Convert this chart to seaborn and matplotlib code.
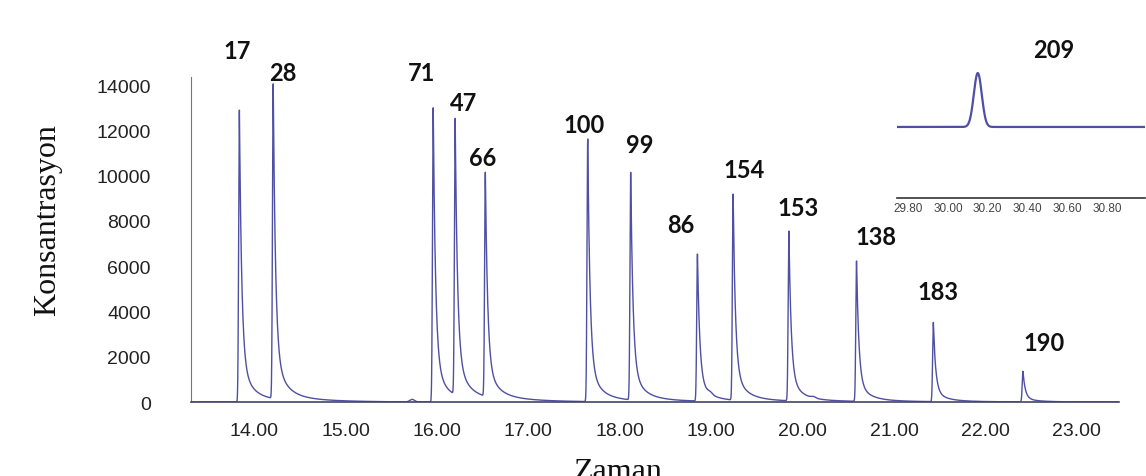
import numpy as np
import pandas as pd
import matplotlib
matplotlib.use('Agg')
import matplotlib.pyplot as plt
import seaborn as sns
from matplotlib.ticker import MultipleLocator, FormatStrFormatter

# Peaks: compound number, retention time (min), height
peak_labels = ['17', '28', '71', '47', '66', '100', '99', '86', '154', '153', '138', '183', '190']
peak_times = [13.84, 14.21, 15.96, 16.20, 16.53, 17.65, 18.12, 18.85, 19.24, 19.85, 20.59, 21.43, 22.41]
peak_heights = [12900, 13900, 13000, 12200, 9900, 11600, 10050, 6500, 9100, 7500, 6200, 3500, 1350]

# small unlabeled bumps on the baseline
minor_times = [15.73, 18.99, 20.12]
minor_heights = [110, 90, 60]

# inset: late eluting compound 209
inset_label = '209'
inset_time = 30.15
inset_height = 400

# label offsets from the apex, in pixels (dx, dy up)
label_offsets = [(-2, 60), (10, 15), (-12, 35), (8, 23), (-3, 20), (-4, 15), (9, 30),
                 (-17, 30), (11, 27), (9, 25), (19, 25), (5, 31), (21, 29)]

line_color = '#4f4fa3'


def tailed_peak(t, t0, h):
    dt = t - t0
    rise = np.exp(-0.5 * (dt / 0.008) ** 2)
    d = np.clip(dt, 0, None)
    tail = 0.85 * np.exp(-d / 0.025) + 0.13 * np.exp(-d / 0.11) + 0.02 * np.exp(-d / 0.4)
    return h * np.where(dt < 0, rise, tail)


def gauss_peak(t, t0, h, s):
    return h * np.exp(-0.5 * ((t - t0) / s) ** 2)


t = np.linspace(13.31, 23.46, 20000)
signal = np.zeros_like(t)
for t0, h in zip(peak_times, peak_heights):
    signal += tailed_peak(t, t0, h)
for t0, h in zip(minor_times, minor_heights):
    signal += gauss_peak(t, t0, h, 0.025)
main_df = pd.DataFrame({'Zaman': t, 'Konsantrasyon': signal})

ti = np.linspace(29.744, 30.99, 2000)
inset_df = pd.DataFrame({'t': ti, 'y': gauss_peak(ti, inset_time, inset_height, 0.02)})

sns.set_style('white')
plt.rcParams['font.family'] = ['Liberation Sans', 'DejaVu Sans']

fig = plt.figure(figsize=(11.46, 4.77), dpi=100)
ax = fig.add_axes([0.1667, 0.155, 0.8097, 0.681])

sns.lineplot(data=main_df, x='Zaman', y='Konsantrasyon', ax=ax, color=line_color,
             lw=1.0, estimator=None, sort=False)

ax.set_xlim(13.311, 23.46)
ax.set_ylim(0, 14352)
ax.xaxis.set_major_locator(MultipleLocator(1))
ax.xaxis.set_minor_locator(MultipleLocator(0.2))
ax.xaxis.set_major_formatter(FormatStrFormatter('%.2f'))
ax.yaxis.set_major_locator(MultipleLocator(2000))
ax.yaxis.set_minor_locator(MultipleLocator(400))
ax.tick_params(axis='x', which='major', direction='out', length=6, width=1,
               color='#555555', labelsize=14, labelcolor='#222222', pad=8)
ax.tick_params(axis='x', which='minor', direction='out', length=3.5, width=0.8, color='#555555')
ax.tick_params(axis='y', which='major', direction='out', length=3, width=0.8,
               color='#777777', labelsize=14, labelcolor='#222222', pad=26)
ax.tick_params(axis='y', which='minor', direction='out', length=2, width=0.6, color='#777777')
ax.set_xlabel('')
ax.set_ylabel('')
for side in ['top', 'right']:
    ax.spines[side].set_visible(False)
ax.spines['left'].set_color('#777777')
ax.spines['bottom'].set_color('#444466')
ax.spines['bottom'].set_linewidth(1.2)

for lab, t0, h, (dx, dy) in zip(peak_labels, peak_times, peak_heights, label_offsets):
    ax.annotate(lab, xy=(t0, h), xytext=(dx, dy), textcoords='offset pixels',
                ha='center', va='center', fontsize=17, fontweight='bold',
                family=['Lato', 'DejaVu Sans'], color='#111111')

# inset with compound 209
axi = fig.add_axes([0.7827, 0.5828, 0.2164, 0.2914])
sns.lineplot(data=inset_df, x='t', y='y', ax=axi, color=line_color, lw=1.6,
             estimator=None, sort=False)
axi.set_xlim(29.744, 30.99)
axi.set_ylim(-1.317 * inset_height, 1.26 * inset_height)
axi.xaxis.set_minor_locator(MultipleLocator(0.04))
axi.xaxis.set_major_formatter(FormatStrFormatter('%.2f'))
axi.set_xticks([29.8, 30.0, 30.2, 30.4, 30.6, 30.8])
axi.set_yticks([])
axi.tick_params(axis='x', which='major', direction='inout', length=4, width=0.8,
                color='#333333', labelsize=8.5, labelcolor='#444444', pad=1)
axi.tick_params(axis='x', which='minor', direction='inout', length=3, width=0.6, color='#333333')
axi.set_xlabel('')
axi.set_ylabel('')
axi.patch.set_alpha(0)
for side in ['top', 'right', 'left']:
    axi.spines[side].set_visible(False)
axi.spines['bottom'].set_color('#333333')
axi.spines['bottom'].set_linewidth(1.2)
axi.annotate(inset_label, xy=(inset_time, inset_height), xytext=(76, 24),
             textcoords='offset pixels', ha='center', va='center', fontsize=17,
             fontweight='bold', family=['Lato', 'DejaVu Sans'], color='#111111')

fig.text(48 / 1146, 1 - 220 / 477, 'Konsantrasyon', rotation=90, ha='center', va='center',
         fontsize=23, family=['Liberation Serif', 'DejaVu Serif'], color='#111111')
# the axis title sits on the lower edge, partly cut off as in the source figure
fig.text(618 / 1146, -0.006, 'Zaman', ha='center', va='baseline',
         fontsize=23, family=['Liberation Serif', 'DejaVu Serif'], color='#111111')

fig.savefig('out.png', dpi=100)
